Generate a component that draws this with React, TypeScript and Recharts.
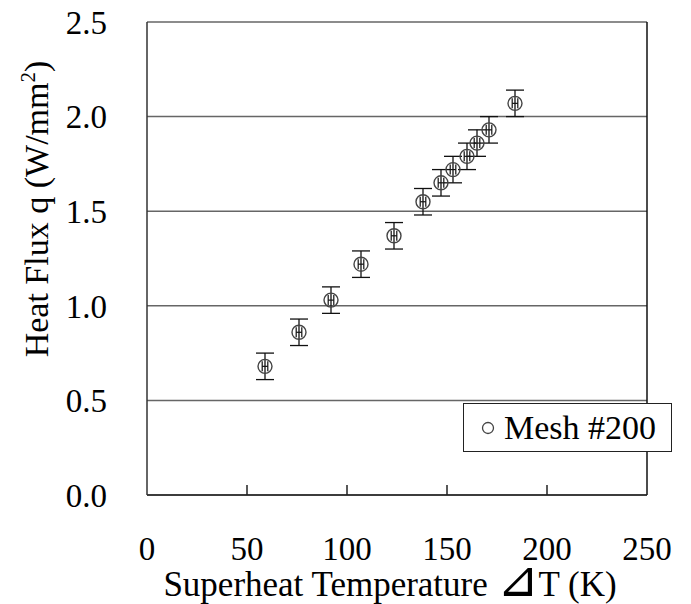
import React from "react";
import {
  ScatterChart,
  Scatter,
  XAxis,
  YAxis,
  CartesianGrid,
  ErrorBar,
  ReferenceLine,
  Legend,
} from "recharts";

const FONT = "Liberation Serif";

// Superheat temperature (K) and heat flux (W/mm2)
const superheat = [59, 76, 92, 107, 123.5, 138, 147, 153, 160, 165, 171, 184];
const heatFlux = [0.68, 0.86, 1.03, 1.22, 1.37, 1.55, 1.65, 1.72, 1.79, 1.86, 1.93, 2.07];
const fluxErr = [0.07, 0.07, 0.07, 0.07, 0.07, 0.07, 0.07, 0.07, 0.07, 0.07, 0.07, 0.07];
const tempErr = [1.4, 1.4, 1.4, 1.4, 1.4, 1.4, 1.4, 1.4, 1.4, 1.4, 1.4, 1.4];

const xTicks = [0, 50, 100, 150, 200, 250];
const yTicks = [0, 0.5, 1.0, 1.5, 2.0, 2.5];

const data = superheat.map((x, i) => ({
  x,
  y: heatFlux[i],
  ex: tempErr[i],
  ey: fluxErr[i],
}));

const X_TICK_MARGIN = 42;

function XTick(props: any) {
  const { x, y, payload } = props;
  const axisY = y - X_TICK_MARGIN;
  const v = payload.value;
  return (
    <g>
      {v !== 0 && v !== 250 && (
        <line x1={x} x2={x} y1={axisY} y2={axisY - 10} stroke="#222" strokeWidth={1.5} />
      )}
      <text x={x} y={y} dy="0.71em" textAnchor="middle" fontSize={33} fontFamily={FONT} fill="#000">
        {v}
      </text>
    </g>
  );
}

function YTick(props: any) {
  const { x, y, payload } = props;
  return (
    <text x={x} y={y} dy="0.355em" textAnchor="end" fontSize={33} fontFamily={FONT} fill="#000">
      {payload.value.toFixed(1)}
    </text>
  );
}

function Ring(props: any) {
  const { cx, cy } = props;
  return <circle cx={cx} cy={cy} r={7} fill="none" stroke="#444" strokeWidth={1.4} />;
}

function LegendBox() {
  return (
    <div
      style={{
        boxSizing: "border-box",
        width: 209,
        height: 49,
        border: "1.5px solid #222",
        background: "#fff",
        display: "flex",
        alignItems: "center",
        fontFamily: FONT,
        fontSize: 34,
        color: "#000",
        paddingLeft: 17,
      }}
    >
      <svg width={14} height={14} style={{ marginRight: 9 }}>
        <circle cx={7} cy={7} r={5.5} fill="none" stroke="#444" strokeWidth={1.3} />
      </svg>
      <span>Mesh #200</span>
    </div>
  );
}

export default function App() {
  return (
    <div style={{ position: "absolute", left: 0, top: 0, width: 691, height: 604, background: "#fff" }}>
      <ScatterChart width={691} height={604} margin={{ top: 22, right: 44, bottom: 0, left: 0 }}>
        <CartesianGrid horizontal vertical={false} stroke="#666" strokeWidth={1.5} />
        <XAxis
          type="number"
          dataKey="x"
          domain={[0, 250]}
          ticks={xTicks}
          height={109}
          tickSize={0}
          tickMargin={X_TICK_MARGIN}
          tickLine={false}
          axisLine={{ stroke: "#222", strokeWidth: 1.5 }}
          tick={<XTick />}
        />
        <YAxis
          type="number"
          dataKey="y"
          domain={[0, 2.5]}
          ticks={yTicks}
          width={147}
          tickSize={0}
          tickMargin={40}
          tickLine={false}
          axisLine={{ stroke: "#333", strokeWidth: 1.5 }}
          tick={<YTick />}
        />
        <ReferenceLine x={250} stroke="#111" strokeWidth={1.5} />
        <Legend
          layout="vertical"
          align="center"
          verticalAlign="middle"
          wrapperStyle={{ left: 463, top: 403, width: 209, height: 49 }}
          content={() => <LegendBox />}
        />
        <Scatter data={data} shape={<Ring />} isAnimationActive={false}>
          <ErrorBar dataKey="ey" direction="y" width={9} stroke="#111" strokeWidth={1.3} />
          <ErrorBar dataKey="ex" direction="x" width={5} stroke="#111" strokeWidth={1.2} />
        </Scatter>
        <text
          x={48}
          y={209}
          transform="rotate(-90, 48, 209)"
          textAnchor="middle"
          fontSize={34}
          fontFamily={FONT}
          fill="#000"
        >
          Heat Flux q (W/mm
          <tspan fontSize={21} dy={-13}>2</tspan>
          <tspan dy={13}>)</tspan>
        </text>
        <text x={390} y={596} textAnchor="middle" fontSize={35} fontFamily={FONT} fill="#000">
          Superheat Temperature <tspan fontSize={50}>⊿</tspan>T (K)
        </text>
      </ScatterChart>
    </div>
  );
}
